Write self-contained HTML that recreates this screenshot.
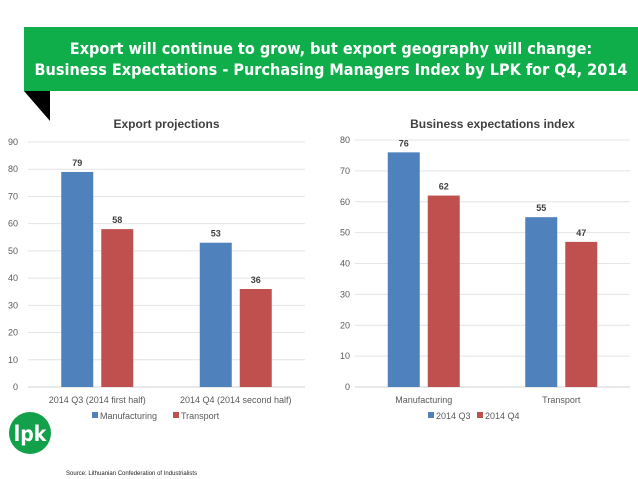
<!DOCTYPE html>
<html><head><meta charset="utf-8"><style>
body{margin:0;width:638px;height:479px;background:#fff;font-family:"Liberation Sans",sans-serif;overflow:hidden;position:relative}
#banner{position:absolute;left:24px;top:27px;width:614px;height:64px;background:#0fae4b;color:#fff;font-weight:bold;font-size:16.1px;letter-spacing:0;line-height:21px;text-align:center;padding-top:11px;box-sizing:border-box;white-space:nowrap;font-family:"DejaVu Sans Condensed","Liberation Sans",sans-serif}
svg{position:absolute;left:0;top:0}
</style></head><body>
<div id="banner">Export will continue to grow, but export geography will change:<br>Business Expectations - Purchasing Managers Index by LPK for Q4, 2014</div>
<svg id="s" width="638" height="479"></svg>
<script>
const leftCats=["2014 Q3 (2014 first half)","2014 Q4 (2014 second half)"];
const leftManufacturing=[79,53];
const leftTransport=[58,36];
const leftTicks=[0,10,20,30,40,50,60,70,80,90];
const rightCats=["Manufacturing","Transport"];
const rightQ3=[76,55];
const rightQ4=[62,47];
const rightTicks=[0,10,20,30,40,50,60,70,80];
const s=document.getElementById('s');
const NS="http://www.w3.org/2000/svg";
function el(t,a,txt){const e=document.createElementNS(NS,t);for(const k in a)e.setAttribute(k,a[k]);if(txt!=null)e.textContent=txt;s.appendChild(e);return e;}
const tri=el('polygon',{points:'24,91 50,91 50,121',fill:'#000'});

function chart(o){
 const y=v=>o.y0-(v/o.max)*(o.y0-o.y1);
 const cw=(o.x1-o.x0)/o.cats.length;
 o.ticks.forEach(t=>{
  const g=el('line',{x1:o.x0,x2:o.x1,y1:y(t),y2:y(t),stroke:t==0?'#d0d0d0':'#e4e4e4','stroke-width':1});
  
  const l=el('text',{x:o.lx,y:y(t)+3,'font-size':9,fill:'#595959','text-anchor':'end'},t);
  
 });
 el('text',{x:(o.x0+o.x1)/2,y:128,'font-size':12,'font-weight':'bold',fill:'#404040','text-anchor':'middle'},o.title);
 const cols=['#4f81bd','#c0504d'];
 o.cats.forEach((c,i)=>{
  const cx=o.x0+cw*(i+0.5);
  [o.a,o.b].forEach((ser,j)=>{
   const bx=cx-36+j*40, v=ser[i];
   const r=el('rect',{x:bx,y:y(v),width:32,height:o.y0-y(v),fill:cols[j]});
   
   
   const t=el('text',{x:bx+16,y:y(v)-6,'font-size':9,'font-weight':'bold',fill:'#404040','text-anchor':'middle'},v);
   
  });
  const cl=el('text',{x:cx,y:o.y0+16,'font-size':9,fill:'#595959','text-anchor':'middle'},c);
  
 });
 o.legend.forEach((n,j)=>{
  const lx=o.legX[j];
  const r=el('rect',{x:lx,y:412,width:6,height:6,fill:cols[j]});
  
  const t=el('text',{x:lx+8,y:419,'font-size':9,fill:'#595959'},n);
  
 });
}
chart({x0:28,x1:305,y0:387,y1:142,max:90,lx:18,ticks:leftTicks,cats:leftCats,a:leftManufacturing,b:leftTransport,title:'Export projections',legend:['Manufacturing','Transport'],legX:[92,173]});
chart({x0:355,x1:630,y0:387,y1:140,max:80,lx:350,ticks:rightTicks,cats:rightCats,a:rightQ3,b:rightQ4,title:'Business expectations index',legend:['2014 Q3','2014 Q4'],legX:[428,477]});
const c=el('circle',{cx:30,cy:433,r:21,fill:'#12a04a'});
el('text',{x:30,y:441,'font-size':21,'font-weight':'bold',fill:'#fff','text-anchor':'middle','font-family':'DejaVu Sans Condensed'},'lpk');
const src=el('text',{x:66,y:475,'font-size':6,fill:'#222'},'Source: Lithuanian Confederation of Industrialists');

</script>
</body></html>
